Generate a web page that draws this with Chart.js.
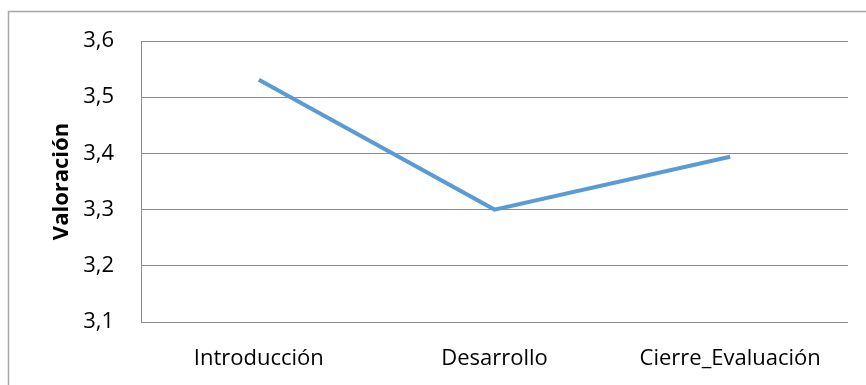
<!DOCTYPE html>
<html>
<head>
<meta charset="utf-8">
<script src="https://cdn.jsdelivr.net/npm/chart.js@4/dist/chart.umd.min.js"></script>
<style>
html,body{margin:0;padding:0;background:#fff;}
#wrap{position:absolute;left:0;top:0;width:866px;height:385px;}
</style>
</head>
<body>
<div id="wrap"><canvas id="c" width="866" height="385"></canvas></div>
<script>
const categories = ["Introducción", "Desarrollo", "Cierre_Evaluación"];
const valoracion = [3.531, 3.30, 3.394];
const yTicks = [3.1, 3.2, 3.3, 3.4, 3.5, 3.6];
const yTitle = "Valoración";

const frame = {
  id: 'frame',
  beforeDraw(chart) {
    const ctx = chart.ctx;
    ctx.save();
    ctx.fillStyle = '#fff';
    ctx.fillRect(0, 0, chart.width, chart.height);
    ctx.strokeStyle = '#a6a6a6';
    ctx.lineWidth = 1.5;
    ctx.beginPath();
    ctx.moveTo(8.5, chart.height);
    ctx.lineTo(8.5, 11.5);
    ctx.lineTo(chart.width, 11.5);
    ctx.stroke();
    ctx.restore();
  }
};

new Chart(document.getElementById('c'), {
  type: 'line',
  data: {
    labels: categories,
    datasets: [{
      data: valoracion,
      borderColor: '#5B9BD5',
      borderWidth: 4,
      pointRadius: 0,
      tension: 0,
      fill: false
    }]
  },
  plugins: [frame],
  options: {
    responsive: false,
    animation: false,
    layout: { padding: { left: 40, top: 41, right: 18, bottom: 0 } },
    plugins: { legend: { display: false }, tooltip: { enabled: false } },
    scales: {
      x: {
        offset: true,
        grid: { display: false, drawTicks: false },
        border: { display: false },
        ticks: { color: '#000', font: { family: 'Open Sans', size: 22 }, padding: 24, maxRotation: 0, autoSkip: false },
        afterFit(s) { s.height = 63; }
      },
      y: {
        min: yTicks[0],
        max: yTicks[yTicks.length - 1],
        afterBuildTicks(s) { s.ticks = yTicks.map(v => ({ value: v })); },
        grid: { color: '#8c8c8c', lineWidth: 1, drawTicks: false },
        border: { display: true, color: '#8c8c8c', width: 1 },
        ticks: {
          color: '#000',
          font: { family: 'Open Sans', size: 22 },
          padding: 27,
          callback: v => Number(v).toFixed(1).replace('.', ',')
        },
        title: {
          display: true,
          text: yTitle,
          color: '#000',
          font: { family: 'Open Sans', size: 22, weight: 'bold' },
          padding: { top: 9, bottom: 0 }
        },
        afterFit(s) { s.width = 101; }
      }
    }
  }
});
</script>
</body>
</html>
